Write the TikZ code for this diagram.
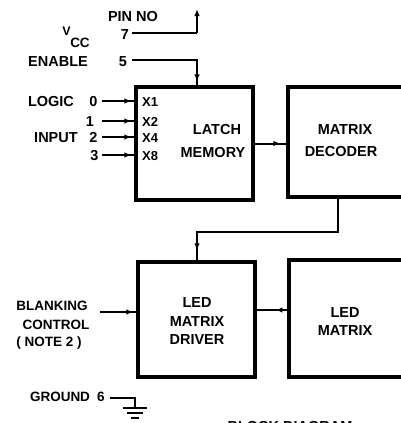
\documentclass[tikz,border=0pt]{standalone}
\usepackage{fontspec}
\setmainfont{Liberation Sans}
\usetikzlibrary{arrows.meta,decorations.markings}
\begin{document}
\begin{tikzpicture}[x=1pt,y=-1pt,
  blk/.style={draw,line width=3.2pt,inner sep=0pt},
  wire/.style={line width=2pt},
  tipat/.style={decoration={markings,mark=at position #1 with {\arrow{Latex[length=7pt,width=5.5pt]}}},postaction=decorate},
  lbl/.style={font=\fontsize{14.5}{14.5}\selectfont\bfseries,inner sep=0pt,anchor=base},
  sml/.style={font=\fontsize{13.5}{13.5}\selectfont\bfseries,inner sep=0pt,anchor=base},
  xl/.style={font=\fontsize{13}{13}\selectfont\bfseries,inner sep=0pt,anchor=base west}]
\useasboundingbox (0,0) rectangle (401,423);
\clip (0,0) rectangle (401,423);
% boxes
\node[blk,minimum width=117pt,minimum height=113pt] (latch) at (194.5,143.5) {};
\node[blk,minimum width=142pt,minimum height=110pt] (dec) at (359,142) {};
\node[blk,minimum width=117pt,minimum height=115pt] (drv) at (196.5,319.5) {};
\node[blk,minimum width=141pt,minimum height=117pt] (ledm) at (359.5,318.5) {};
% box texts
\node[lbl] (t1) at (217,134) {LATCH};
\node[lbl] (t2) at (213,157) {MEMORY};
\node[lbl] (t3) at (345,134) {MATRIX};
\node[lbl] (t4) at (341,156) {DECODER};
\node[lbl] (t5) at (197,307) {LED};
\node[lbl] (t6) at (197,326) {MATRIX};
\node[lbl] (t7) at (197,344) {DRIVER};
\node[lbl] (t8) at (345,317) {LED};
\node[lbl] (t9) at (345,335) {MATRIX};
\node[xl] (x1) at (142,106) {X1};
\node[xl] (x2) at (142,126) {X2};
\node[xl] (x4) at (142,142) {X4};
\node[xl] (x8) at (142,160) {X8};
% left texts
\node[lbl] (pin) at (133,21) {PIN NO};
\node[font=\fontsize{12.5}{12.5}\selectfont\bfseries,inner sep=0pt,anchor=base] (v) at (66.5,35.5) {V};
\node[sml] (cc) at (80,47) {CC};
\node[lbl] (n7) at (125,39) {7};
\node[lbl] (en) at (58,66) {ENABLE};
\node[lbl] (n5) at (123,66) {5};
\node[lbl] (lg) at (51,106) {LOGIC};
\node[lbl] (n0) at (93.5,106) {0};
\node[lbl] (n1) at (90,126) {1};
\node[lbl] (inp) at (56,142) {INPUT};
\node[lbl] (n2) at (93.5,142) {2};
\node[lbl] (n3) at (94.5,160) {3};
\node[sml] (b1) at (52,310) {BLANKING};
\node[sml] (b2) at (56,329) {CONTROL};
\node[sml] (b3) at (49,346) {( NOTE 2 )};
\node[sml] (gnd) at (60,401) {GROUND};
\node[sml] (n6) at (101,401) {6};
\node[lbl] (cap) at (290,431) {BLOCK DIAGRAM};
% coordinates
\coordinate (p7) at (132,33);
\coordinate (p7c) at (197,33);
\coordinate (p7t) at (197,9);
\coordinate (p5) at (132,60);
\coordinate (p5c) at (197,60);
\coordinate (i0) at (102,101);
\coordinate (i1) at (102,121);
\coordinate (i2) at (102,137);
\coordinate (i3) at (102,155);
\coordinate (d1) at (338,232);
\coordinate (d2) at (197,232);
\coordinate (bl) at (100,312);
\coordinate (g1) at (110,398);
\coordinate (g2) at (135,398);
\coordinate (g3) at (135,408);
% connectors
\draw[wire] (p7) -- (p7c);
\draw[wire,-{Latex[length=7pt,width=5.5pt]}] (p7c) -- (p7t);
\draw[wire,tipat=-4pt] (p5) -- (p5c) -- (p5c |- latch.north);
\draw[wire,tipat=-3pt] (i0) -- (latch.west |- i0);
\draw[wire,tipat=-3pt] (i1) -- (latch.west |- i1);
\draw[wire,tipat=-3pt] (i2) -- (latch.west |- i2);
\draw[wire,tipat=-3pt] (i3) -- (latch.west |- i3);
\draw[wire,tipat=-6pt] (latch.east) -- (dec.west |- latch.east);
\draw[wire,tipat=-10pt] (d1 |- dec.south) -- (d1) -- (d2) -- (d2 |- drv.north);
\draw[wire,tipat=-3pt] (bl) -- (drv.west |- bl);
\draw[wire,tipat=12pt] (ledm.west |- 0,310) -- (drv.east |- 0,310);
\draw[wire] (g1) -- (g2) -- (g3);
\draw[line width=2.2pt] (123,408) -- (147,408) (127,413) -- (143,413) (131,418) -- (139,418);
\end{tikzpicture}
\end{document}
